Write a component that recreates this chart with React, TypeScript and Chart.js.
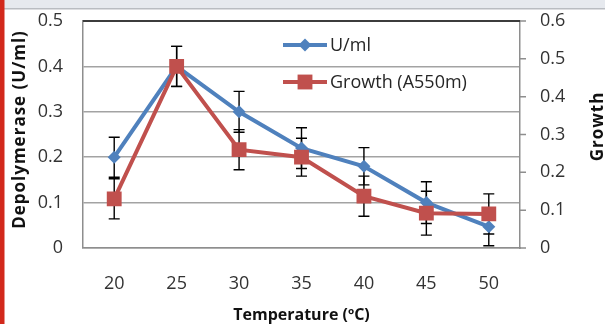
import React, { useEffect, useRef } from 'react';
import { Chart, registerables } from 'chart.js';

Chart.register(...registerables);

// ---- data ----
const temperatures = ['20', '25', '30', '35', '40', '45', '50'];
const enzymeActivity = [0.2, 0.4, 0.3, 0.22, 0.18, 0.1, 0.047];
const enzymeError = [0.044, 0.044, 0.045, 0.045, 0.041, 0.046, 0.042];
const growthValues = [0.13, 0.48, 0.26, 0.24, 0.137, 0.092, 0.09];
const growthError = [0.053, 0.053, 0.053, 0.05, 0.053, 0.058, 0.053];
const leftTicks = [0, 0.1, 0.2, 0.3, 0.4, 0.5];
const rightTicks = [0, 0.1, 0.2, 0.3, 0.4, 0.5, 0.6];

const seriesNames = ['U/ml', 'Growth (A550m)'];
const xTitle = 'Temperature (ºC)';
const leftTitle = 'Depolymerase (U/ml)';
const rightTitle = 'Growth';

const BLUE = '#4f81bd';
const RED = '#c0504d';
const AXIS = '#8e8e8e';
const FONT = "'Open Sans', sans-serif";

function drawMarker(ctx: CanvasRenderingContext2D, style: string, x: number, y: number, r: number, color: string) {
  ctx.save();
  ctx.fillStyle = color;
  ctx.beginPath();
  if (style === 'rectRot') {
    ctx.moveTo(x, y - r);
    ctx.lineTo(x + r, y);
    ctx.lineTo(x, y + r);
    ctx.lineTo(x - r, y);
    ctx.closePath();
  } else {
    const h = r * Math.SQRT1_2;
    ctx.rect(x - h, y - h, 2 * h, 2 * h);
  }
  ctx.fill();
  ctx.restore();
}

const decorPlugin = {
  id: 'decor',
  beforeDraw(chart: any) {
    const { ctx, width, height } = chart;
    ctx.save();
    ctx.fillStyle = '#ffffff';
    ctx.fillRect(0, 0, width, height);
    ctx.fillStyle = '#e6e9ee';
    ctx.fillRect(0, 0, width, 8);
    ctx.fillStyle = '#b9bcc1';
    ctx.fillRect(0, 8, width, 1.5);
    ctx.fillStyle = '#d2291c';
    ctx.fillRect(0, 0, 4.5, height);
    ctx.restore();
  },
};

const errorBarPlugin = {
  id: 'errorBars',
  beforeDatasetsDraw(chart: any) {
    const { ctx } = chart;
    const errs = [enzymeError, growthError];
    ctx.save();
    ctx.strokeStyle = '#000000';
    ctx.lineWidth = 1.4;
    chart.data.datasets.forEach((ds: any, i: number) => {
      const meta = chart.getDatasetMeta(i);
      const scale = chart.scales[meta.yAxisID];
      meta.data.forEach((el: any, j: number) => {
        const v = ds.data[j];
        const e = errs[i][j];
        const yTop = scale.getPixelForValue(v + e);
        const yBot = scale.getPixelForValue(v - e);
        const x = el.x;
        ctx.beginPath();
        ctx.moveTo(x, yTop);
        ctx.lineTo(x, yBot);
        ctx.moveTo(x - 5.5, yTop);
        ctx.lineTo(x + 5.5, yTop);
        ctx.moveTo(x - 5.5, yBot);
        ctx.lineTo(x + 5.5, yBot);
        ctx.stroke();
      });
    });
    ctx.restore();
  },
};

const overlayPlugin = {
  id: 'overlay',
  afterDraw(chart: any) {
    const { ctx, chartArea } = chart;
    const { left, right, top, bottom } = chartArea;
    ctx.save();
    // top border
    ctx.strokeStyle = '#3c3c3c';
    ctx.lineWidth = 2;
    ctx.beginPath();
    ctx.moveTo(left, top);
    ctx.lineTo(right, top);
    ctx.stroke();

    // right-axis outward tick marks
    const ry = chart.scales.y1;
    ctx.strokeStyle = AXIS;
    ctx.lineWidth = 1.5;
    ctx.beginPath();
    rightTicks.forEach((v) => {
      const py = ry.getPixelForValue(v);
      ctx.moveTo(right, py);
      ctx.lineTo(right + 6, py);
    });
    ctx.stroke();

    // legend
    const items = [
      { label: seriesNames[0], color: BLUE, style: 'rectRot', r: 6.5, dy: 24 },
      { label: seriesNames[1], color: RED, style: 'rect', r: 10.5, dy: 61 },
    ];
    const lx0 = left + 200;
    const lx1 = left + 244;
    items.forEach((it) => {
      const y = top + it.dy;
      ctx.strokeStyle = it.color;
      ctx.lineWidth = 4;
      ctx.beginPath();
      ctx.moveTo(lx0, y);
      ctx.lineTo(lx1, y);
      ctx.stroke();
      drawMarker(ctx, it.style, (lx0 + lx1) / 2, y, it.r, it.color);
      ctx.fillStyle = '#262626';
      ctx.font = `18px ${FONT}`;
      ctx.textAlign = 'left';
      ctx.textBaseline = 'middle';
      ctx.fillText(it.label, lx1 + 3, y + 1);
    });

    // titles
    ctx.fillStyle = '#111111';
    ctx.font = `bold 16px ${FONT}`;
    ctx.textAlign = 'center';
    ctx.textBaseline = 'middle';
    ctx.fillText(xTitle, (left + right) / 2, bottom + 67);

    ctx.font = `bold 17px ${FONT}`;
    (ctx as any).letterSpacing = '1px';
    ctx.save();
    ctx.translate(20, (top + bottom) / 2 - 5);
    ctx.rotate(-Math.PI / 2);
    ctx.fillText(leftTitle, 0, 0);
    ctx.restore();

    ctx.save();
    ctx.translate(right + 78, (top + bottom) / 2 - 8);
    ctx.rotate(-Math.PI / 2);
    ctx.fillText(rightTitle, 0, 0);
    ctx.restore();
    (ctx as any).letterSpacing = '0px';
    ctx.restore();
  },
};

export default function App() {
  const ref = useRef<HTMLCanvasElement | null>(null);

  useEffect(() => {
    document.body.style.margin = '0';
    const canvas = ref.current;
    if (!canvas) return;
    const chart = new Chart(canvas, {
      type: 'line',
      data: {
        labels: temperatures,
        datasets: [
          {
            label: seriesNames[0],
            data: enzymeActivity,
            yAxisID: 'y',
            borderColor: BLUE,
            backgroundColor: BLUE,
            borderWidth: 4,
            pointStyle: 'rectRot',
            pointRadius: 6.5,
            pointBorderWidth: 0,
            pointBackgroundColor: BLUE,
            tension: 0,
            order: 2,
          },
          {
            label: seriesNames[1],
            data: growthValues,
            yAxisID: 'y1',
            borderColor: RED,
            backgroundColor: RED,
            borderWidth: 4,
            pointStyle: 'rect',
            pointRadius: 10.5,
            pointBorderWidth: 0,
            pointBackgroundColor: RED,
            tension: 0,
            order: 1,
          },
        ],
      },
      options: {
        responsive: false,
        animation: false,
        layout: { padding: { top: 21, left: 0, right: 0, bottom: 0 } },
        plugins: {
          legend: { display: false },
          tooltip: { enabled: false },
        },
        scales: {
          x: {
            type: 'category',
            offset: true,
            grid: { display: false },
            border: { display: true, color: AXIS, width: 1.5 },
            ticks: { padding: 17, color: '#333333', font: { family: FONT, size: 18 } },
            afterFit: (s: any) => { s.height = 76; },
          },
          y: {
            position: 'left',
            min: 0,
            max: 0.5,
            afterBuildTicks: (s: any) => { s.ticks = leftTicks.map((v) => ({ value: v })); },
            ticks: {
              padding: 0,
              color: '#333333',
              font: { family: FONT, size: 18 },
              callback: (v: any) => String(Number(Number(v).toFixed(1))),
            },
            grid: { color: '#a3a3a3', lineWidth: 1.5, drawTicks: true, tickLength: 20, tickColor: 'rgba(0,0,0,0)' },
            border: { display: true, color: AXIS, width: 1.5 },
            afterFit: (s: any) => { s.width = 83; },
          },
          y1: {
            position: 'right',
            min: 0,
            max: 0.6,
            afterBuildTicks: (s: any) => { s.ticks = rightTicks.map((v) => ({ value: v })); },
            ticks: {
              padding: 0,
              color: '#333333',
              font: { family: FONT, size: 18 },
              callback: (v: any) => String(Number(Number(v).toFixed(1))),
            },
            grid: { drawOnChartArea: false, drawTicks: true, tickLength: 20, tickColor: 'rgba(0,0,0,0)' },
            border: { display: true, color: AXIS, width: 1.5 },
            afterFit: (s: any) => { s.width = 85; },
          },
        },
      },
      plugins: [decorPlugin, errorBarPlugin, overlayPlugin],
    } as any);
    return () => chart.destroy();
  }, []);

  return (
    <div style={{ width: 605, height: 324 }}>
      <canvas ref={ref} width={605} height={324} style={{ display: 'block', width: 605, height: 324 }} />
    </div>
  );
}
